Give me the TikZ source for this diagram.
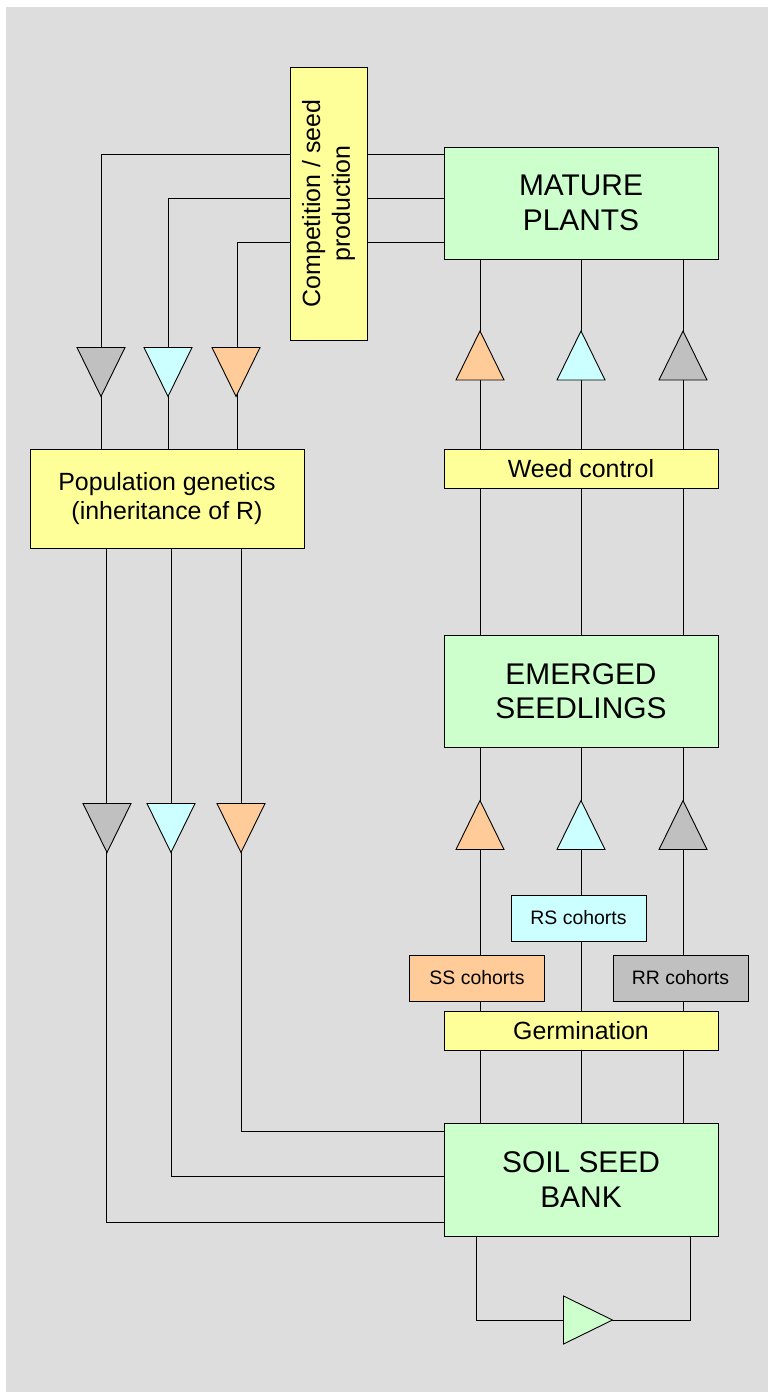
\documentclass[tikz,border=0pt]{standalone}
\usepackage{fontspec}
\setmainfont{Liberation Sans}
\usepackage{xcolor}
\usetikzlibrary{arrows.meta, positioning, calc}

\definecolor{bgc}{HTML}{DDDDDD}
\definecolor{stagec}{HTML}{CCFFCC}
\definecolor{procc}{HTML}{FFFF99}
\definecolor{ssc}{HTML}{FFCC99}
\definecolor{rsc}{HTML}{CCFFFF}
\definecolor{rrc}{HTML}{C0C0C0}

\begin{document}
\begin{tikzpicture}[x=1bp, y=-1bp, line width=0.9bp,
    stage/.style={draw, fill=stagec, minimum width=274bp, minimum height=112bp,
        inner sep=0pt, align=center, font=\fontsize{30}{34.5}\selectfont},
    process/.style={draw, fill=procc, minimum width=274bp, minimum height=39bp,
        inner sep=0pt, align=center, font=\fontsize{25}{30}\selectfont},
    cohort/.style={draw, fill=#1, minimum width=135bp, minimum height=46bp,
        inner sep=0pt, font=\fontsize{19.5}{22}\selectfont},
    pics/valve/.style={code={\draw[fill=#1] (-24,24.5) -- (24,24.5) -- (0,-24.5) -- cycle;}}]
    \useasboundingbox (0,0) rectangle (768,1392);
    \fill[white] (0,0) rectangle (768,1392);
    \fill[bgc] (6,7) rectangle (768,1392);

    % life-cycle stages and processes
    \node[stage] (mature) at (581,203) {MATURE\\PLANTS};
    \node[process] (weed) at (581,468.5) {Weed control};
    \node[stage] (emerged) at (581,691) {EMERGED\\SEEDLINGS};
    \node[process] (germ) at (581,1030.5) {Germination};
    \node[stage, minimum height=113bp] (soil) at (581,1179.5) {SOIL SEED\\BANK};
    \node[cohort=rsc] (rs) at (578.5,918) {RS cohorts};
    \node[cohort=ssc] (ss) at (477,978) {SS cohorts};
    \node[cohort=rrc] (rr) at (680.5,978) {RR cohorts};
    \node[process, minimum height=99bp] (popgen) at (167,498.5)
        {Population genetics\\(inheritance of R)};

    % genotype columns
    \coordinate (cS) at (480,0);
    \coordinate (cR) at (581,0);
    \coordinate (cX) at (683,0);
    \coordinate (lG) at (101,0);
    \coordinate (lC) at (168,0);
    \coordinate (lO) at (237,0);
    \coordinate (bG) at (106,0);
    \coordinate (bC) at (171,0);
    \coordinate (bO) at (241,0);
    \coordinate (loopL) at (476,1320);
    \coordinate (loopR) at (690,1320);

    \foreach \col in {cS, cR, cX} {
        \draw (mature.south -| \col) -- (weed.north -| \col);
        \draw (weed.south -| \col) -- (emerged.north -| \col);
        \draw (germ.south -| \col) -- (soil.north -| \col);
    }
    \foreach \col/\coh in {cS/ss, cR/rs, cX/rr} {
        \draw (emerged.south -| \col) -- (\coh.north -| \col);
        \draw (\coh.south -| \col) -- (germ.north -| \col);
    }
    \foreach \col/\dy in {lG/49, lC/5, lO/-39}
        \draw ([yshift=\dy bp]mature.west) -| (popgen.north -| \col);
    \foreach \col/\dy in {bG/-42.5, bC/3.5, bO/48.5}
        \draw (popgen.south -| \col) |- ([yshift=\dy bp]soil.west);
    \draw (soil.south -| loopL) -- (loopL) -- (loopR) -- (soil.south -| loopR);

    % valves
    \foreach \x/\c in {480/ssc, 581/rsc, 683/rrc} {
        \pic at (\x,355.5) {valve=\c};
        \pic at (\x,825) {valve=\c};
    }
    \foreach \x/\c in {101/rrc, 168/rsc, 236/ssc}
        \pic[rotate=180] at (\x,372) {valve=\c};
    \foreach \x/\c in {107/rrc, 171/rsc, 241/ssc}
        \pic[rotate=180] at (\x,828) {valve=\c};
    \pic[rotate=-90] at (588,1320) {valve=stagec};

    \node[process, minimum width=273bp, minimum height=77bp, rotate=90] (comp)
        at (328.5,203.5) {Competition / seed\\production};
\end{tikzpicture}
\end{document}
